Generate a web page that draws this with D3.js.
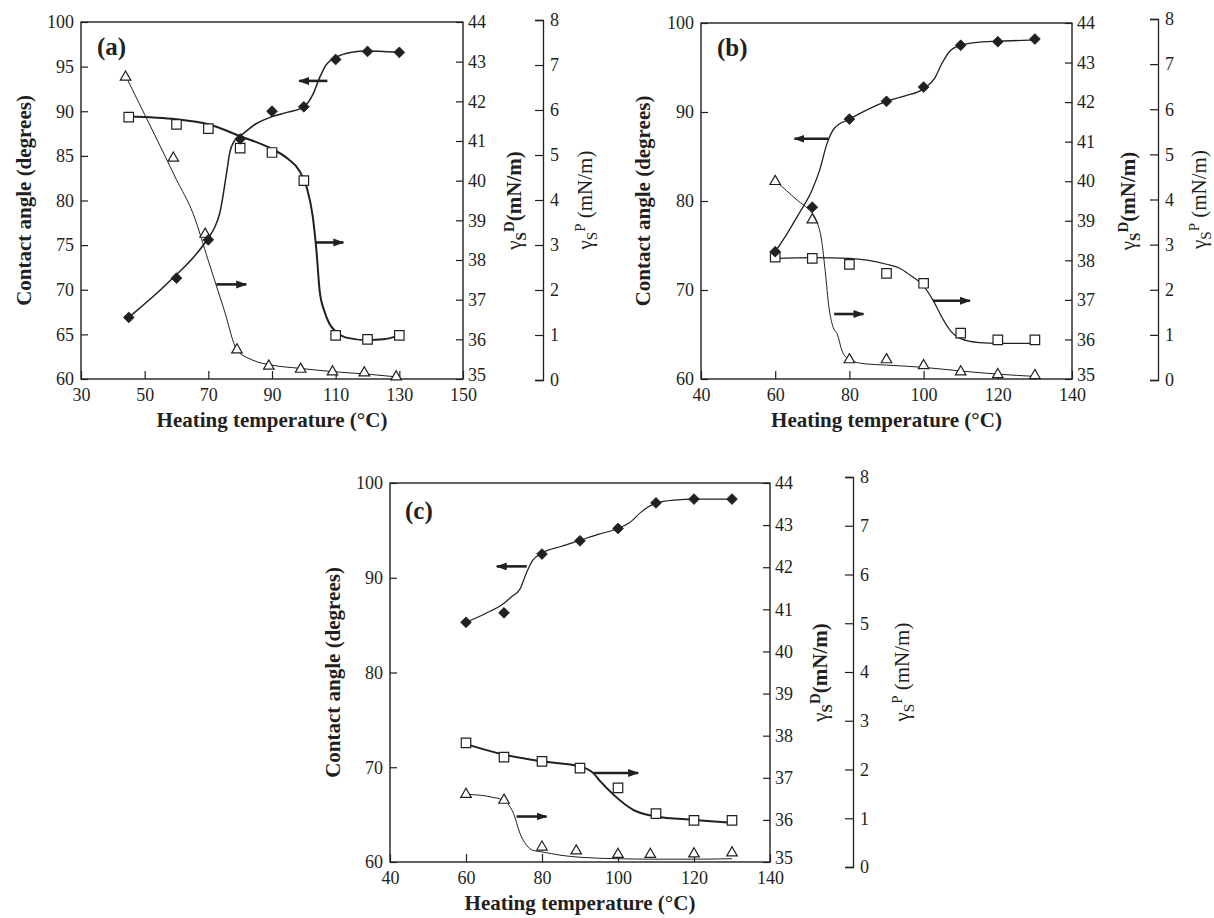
<!DOCTYPE html>
<html><head><meta charset="utf-8">
<script src="https://cdn.jsdelivr.net/npm/d3@7"></script>
<style>
body{margin:0;background:#fff}
svg{display:block}
text{font-family:"Liberation Serif","Times New Roman",serif;fill:#231f20}
</style>
</head><body>
<svg id="chart" width="1214" height="918"></svg>
<script>
// ---------------- DATA ----------------
// Panel (a)
const TEMP_A = [45, 60, 70, 80, 90, 100, 110, 120, 130];
const ANGLE_A = [66.9, 71.3, 75.6, 86.9, 90.0, 90.5, 95.8, 96.7, 96.6];
const GAMMA_D_A = [41.6, 41.42, 41.31, 40.82, 40.71, 40.0, 36.1, 36.0, 36.1];
const TEMP_P_A = [44, 59, 69, 79, 89, 99, 109, 119, 129];
const GAMMA_P_A = [6.73, 4.93, 3.24, 0.67, 0.31, 0.24, 0.18, 0.16, 0.07];
const FIT_ANGLE_A = [[45,66.9],[55,70.0],[60,71.7],[65,73.5],[70,75.8],[72,77.0],[73.6,78.6],[75.7,83.0],[76.7,85.3],[78,86.6],[80,87.2],[85,88.6],[90,89.4],[95,89.9],[100,90.5],[103,92.0],[105,93.8],[107,95.2],[110,96.0],[115,96.6],[120,96.75],[125,96.7],[130,96.6]];
const FIT_GAMMA_D_A = [[45,41.62],[60,41.55],[70,41.42],[80,41.12],[90,40.8],[95,40.55],[98.6,40.25],[101,39.8],[102.8,39.1],[104,38.2],[105,37.2],[106.5,36.7],[108,36.4],[110,36.2],[113,36.05],[120,35.98],[125,36.0],[130,36.1]];
const FIT_GAMMA_P_A = [[44,6.76],[50,5.9],[55,5.18],[60,4.45],[65.2,3.7],[70,2.65],[75,1.55],[79,0.67],[84,0.44],[90,0.33],[98.6,0.26],[110,0.18],[120,0.13],[129,0.07]];
const ARROWS_A = [[107.4, 98.5, 93.4], [72.5, 81.9, 70.6], [103.7, 112.4, 75.3]]; // [fromTemp, toTemp, contact angle]

// Panel (b)
const TEMP_B = [60, 70, 80, 90, 100, 110, 120, 130];
const ANGLE_B = [74.3, 79.3, 89.2, 91.2, 92.8, 97.5, 97.9, 98.2];
const GAMMA_D_B = [38.08, 38.05, 37.9, 37.67, 37.42, 36.16, 35.99, 35.99];
const GAMMA_P_B = [4.4, 3.55, 0.45, 0.45, 0.32, 0.18, 0.12, 0.1];
const FIT_ANGLE_B = [[60,74.3],[63,76.2],[66,78.3],[70,81.3],[72,83.5],[74,86.5],[76,88.2],[80,89.2],[85,90.3],[90,91.2],[95,91.8],[100,92.6],[103,93.8],[105,95.5],[107,96.8],[110,97.5],[115,97.85],[120,97.95],[130,98.1]];
const FIT_GAMMA_D_B = [[60,38.05],[70,38.07],[80,38.05],[90,37.9],[93.6,37.8],[96.3,37.63],[100,37.35],[102.5,37.0],[105,36.55],[107,36.25],[110,36.02],[115,35.92],[120,35.9],[130,35.9]];
const FIT_GAMMA_P_B = [[60,4.42],[63,4.2],[66,3.98],[69,3.78],[71,3.55],[72.5,3.1],[73.5,2.4],[74.5,1.6],[75.5,1.2],[76.8,1.0],[78,0.65],[80,0.45],[84,0.36],[90,0.33],[100,0.28],[110,0.2],[120,0.13],[130,0.08]];
const ARROWS_B = [[74.3, 65.2, 87.0], [75.9, 83.8, 67.3], [102.5, 112.5, 68.8]];

// Panel (c)
const TEMP_C = [60, 70, 80, 90, 100, 110, 120, 130];
const ANGLE_C = [85.3, 86.3, 92.5, 93.9, 95.2, 97.9, 98.3, 98.3];
const GAMMA_D_C = [37.83, 37.49, 37.39, 37.23, 36.76, 36.15, 35.99, 35.99];
const TEMP_P_C = [60, 70, 80, 89, 100, 108.5, 120, 130];
const GAMMA_P_C = [1.49, 1.37, 0.41, 0.33, 0.26, 0.26, 0.27, 0.29];
const FIT_ANGLE_C = [[60,85.3],[65,86.2],[70,87.3],[72,88.0],[74.2,88.8],[76,90.6],[77.5,91.8],[80,92.6],[85,93.3],[90,93.95],[95,94.6],[100,95.2],[103,95.8],[106,96.9],[108,97.5],[110,97.85],[115,98.2],[120,98.3],[130,98.3]];
const FIT_GAMMA_D_C = [[60,37.8],[70,37.55],[80,37.39],[90,37.27],[93.5,37.11],[95.3,36.92],[98.8,36.6],[104,36.24],[110,36.08],[120,36.0],[130,35.93]];
const FIT_GAMMA_P_C = [[60,1.49],[64,1.47],[67,1.43],[69.5,1.38],[71,1.3],[72.5,1.1],[74.2,0.69],[75.9,0.45],[77.7,0.34],[80,0.31],[85,0.24],[90,0.2],[100,0.17],[110,0.16],[120,0.16],[130,0.17]];
const ARROWS_C = [[76, 68.1, 91.2], [73.3, 81.2, 64.8], [93.5, 105.3, 69.4]];

// Axis ticks & labels
const X_TICKS_A = [30, 50, 70, 90, 110, 130, 150];
const X_TICKS_BC = [40, 60, 80, 100, 120, 140];
const Y_TICKS_A = [60, 65, 70, 75, 80, 85, 90, 95, 100];
const Y_TICKS_BC = [60, 70, 80, 90, 100];
const GD_TICKS = [35, 36, 37, 38, 39, 40, 41, 42, 43, 44];
const GP_TICKS = [0, 1, 2, 3, 4, 5, 6, 7, 8];
const PANEL_LABELS = ["(a)", "(b)", "(c)"];
const X_TITLE = "Heating temperature (\u00B0C)";
const Y_TITLE = "Contact angle (degrees)";

// ---------------- LAYOUT ----------------
const INK = "#231f20";
const panels = [
  {label: PANEL_LABELS[0], left: 81, right: 463, top: 22, bottom: 379, xDomain: [30, 150], xTicks: X_TICKS_A, yTicks: Y_TICKS_A,
   pX: 543, pTop: 20, pBottom: 380, yTitleX: 31, dTitleX: 521, pTitleX: 592, xTitleY: 427, labelPos: [97, 55],
   temp: TEMP_A, angle: ANGLE_A, gD: GAMMA_D_A, tempP: TEMP_P_A, gP: GAMMA_P_A,
   fitAngle: FIT_ANGLE_A, fitD: FIT_GAMMA_D_A, fitP: FIT_GAMMA_P_A, arrows: ARROWS_A, wAngle: 1.5, wD: 2, wP: 1},
  {label: PANEL_LABELS[1], left: 701, right: 1072, top: 23, bottom: 379, xDomain: [40, 140], xTicks: X_TICKS_BC, yTicks: Y_TICKS_BC,
   pX: 1158, pTop: 19, pBottom: 380, yTitleX: 650, dTitleX: 1135, pTitleX: 1206, xTitleY: 427, labelPos: [717, 56],
   temp: TEMP_B, angle: ANGLE_B, gD: GAMMA_D_B, tempP: TEMP_B, gP: GAMMA_P_B,
   fitAngle: FIT_ANGLE_B, fitD: FIT_GAMMA_D_B, fitP: FIT_GAMMA_P_B, arrows: ARROWS_B, wAngle: 1.3, wD: 1.2, wP: 1},
  {label: PANEL_LABELS[2], left: 390, right: 770, top: 483, bottom: 862, xDomain: [40, 140], xTicks: X_TICKS_BC, yTicks: Y_TICKS_BC,
   pX: 853, pTop: 477, pBottom: 867, yTitleX: 340, dTitleX: 827, pTitleX: 909, xTitleY: 910, labelPos: [405, 519],
   temp: TEMP_C, angle: ANGLE_C, gD: GAMMA_D_C, tempP: TEMP_P_C, gP: GAMMA_P_C,
   fitAngle: FIT_ANGLE_C, fitD: FIT_GAMMA_D_C, fitP: FIT_GAMMA_P_C, arrows: ARROWS_C, wAngle: 1.2, wD: 2, wP: 1}
];

const svg = d3.select("#chart");
const defs = svg.append("defs");
defs.append("marker").attr("id", "ah").attr("markerUnits", "userSpaceOnUse")
  .attr("markerWidth", 12).attr("markerHeight", 10).attr("refX", 10).attr("refY", 4)
  .attr("orient", "auto")
  .append("path").attr("d", "M0,0 L11,4 L0,8 Z").attr("fill", INK);

function styleAxis(g) {
  g.selectAll("text").attr("font-size", 18).attr("fill", INK)
    .style("font-family", '"Liberation Serif","Times New Roman",serif');
  g.selectAll("line").attr("stroke", INK).attr("stroke-width", 1.2);
  g.selectAll("path.domain").attr("stroke", INK).attr("stroke-width", 1.3);
}

panels.forEach(p => {
  const g = svg.append("g");
  const x = d3.scaleLinear().domain(p.xDomain).range([p.left, p.right]);
  const yA = d3.scaleLinear().domain([60, 100]).range([p.bottom, p.top]);
  const yD = d3.scaleLinear().domain([35, 44]).range([p.bottom, p.top]);
  const yP = d3.scaleLinear().domain([0, 8]).range([p.pBottom, p.pTop]);

  // axes
  const ax = g.append("g").attr("transform", `translate(0,${p.bottom})`)
    .call(d3.axisBottom(x).tickValues(p.xTicks).tickSizeInner(-8).tickSizeOuter(0).tickPadding(9).tickFormat(d3.format("d")));
  ax.select(".domain").remove();
  styleAxis(ax);
  const ayl = g.append("g").attr("transform", `translate(${p.left},0)`)
    .call(d3.axisLeft(yA).tickValues(p.yTicks).tickSizeInner(-7).tickSizeOuter(0).tickPadding(7).tickFormat(d3.format("d")));
  ayl.select(".domain").remove();
  styleAxis(ayl);
  const ayd = g.append("g").attr("transform", `translate(${p.right},0)`)
    .call(d3.axisRight(yD).tickValues(GD_TICKS).tickSizeInner(-7).tickSizeOuter(0).tickPadding(5).tickFormat(d3.format("d")));
  ayd.select(".domain").remove();
  styleAxis(ayd);
  // lowest right-axis label sits just above the bottom x labels, as in the original
  ayd.selectAll(".tick text").filter(d => d === 35).attr("dy", "0.1em");
  const ayp = g.append("g").attr("transform", `translate(${p.pX},0)`)
    .call(d3.axisRight(yP).tickValues(GP_TICKS).tickSizeInner(-8).tickSizeOuter(-8).tickPadding(7).tickFormat(d3.format("d")));
  styleAxis(ayp);

  // frame
  g.append("rect").attr("x", p.left).attr("y", p.top).attr("width", p.right - p.left).attr("height", p.bottom - p.top)
    .attr("fill", "none").attr("stroke", INK).attr("stroke-width", 1.4);

  // titles
  g.append("text").attr("x", (p.left + p.right) / 2).attr("y", p.xTitleY).attr("text-anchor", "middle")
    .attr("font-size", 21).attr("font-weight", "bold").text(X_TITLE);
  g.append("text").attr("transform", `translate(${p.yTitleX},${(p.top + p.bottom) / 2}) rotate(-90)`)
    .attr("text-anchor", "middle").attr("font-size", 21).attr("font-weight", "bold").text(Y_TITLE);

  const td = g.append("text").attr("transform", `translate(${p.dTitleX},${(p.top + p.bottom) / 2}) rotate(-90)`)
    .attr("text-anchor", "middle").attr("font-size", 21);
  td.append("tspan").text("\u03B3");
  td.append("tspan").attr("font-size", 15).attr("font-weight", "bold").attr("dy", 5).text("S");
  td.append("tspan").attr("font-size", 15).attr("font-weight", "bold").attr("dy", -12).text("D");
  td.append("tspan").attr("font-weight", "bold").attr("dy", 7).text("(mN/m)");

  const tp = g.append("text").attr("transform", `translate(${p.pTitleX},${(p.pTop + p.pBottom) / 2}) rotate(-90)`)
    .attr("text-anchor", "middle").attr("font-size", 21);
  tp.append("tspan").text("\u03B3");
  tp.append("tspan").attr("font-size", 15).attr("dy", 5).text("S");
  tp.append("tspan").attr("font-size", 15).attr("dy", -12).text("P");
  tp.append("tspan").attr("dy", 7).text("\u00A0(mN/m)");

  g.append("text").attr("x", p.labelPos[0]).attr("y", p.labelPos[1]).attr("font-size", 25).attr("font-weight", "bold").text(p.label);

  // fitted curves
  const mk = ys => d3.line().x(d => x(d[0])).y(d => ys(d[1])).curve(d3.curveMonotoneX);
  g.append("path").attr("d", mk(yA)(p.fitAngle)).attr("fill", "none").attr("stroke", INK).attr("stroke-width", p.wAngle);
  g.append("path").attr("d", mk(yD)(p.fitD)).attr("fill", "none").attr("stroke", INK).attr("stroke-width", p.wD);
  g.append("path").attr("d", mk(yP)(p.fitP)).attr("fill", "none").attr("stroke", INK).attr("stroke-width", p.wP);

  // arrows
  g.selectAll(null).data(p.arrows).enter().append("line")
    .attr("x1", d => x(d[0])).attr("x2", d => x(d[1])).attr("y1", d => yA(d[2])).attr("y2", d => yA(d[2]))
    .attr("stroke", INK).attr("stroke-width", 2.6).attr("marker-end", "url(#ah)");

  // markers
  const sq = d3.symbol().type(d3.symbolSquare).size(90);
  const tri = d3.symbol().type(d3.symbolTriangle).size(48);
  const dia = d3.symbol().type(d3.symbolSquare).size(58);
  g.selectAll(null).data(p.temp.map((t, i) => [t, p.gD[i]])).enter().append("path")
    .attr("d", sq).attr("transform", d => `translate(${x(d[0])},${yD(d[1])})`)
    .attr("fill", "#fff").attr("stroke", INK).attr("stroke-width", 1.2);
  g.selectAll(null).data(p.tempP.map((t, i) => [t, p.gP[i]])).enter().append("path")
    .attr("d", tri).attr("transform", d => `translate(${x(d[0])},${yP(d[1])})`)
    .attr("fill", "#fff").attr("stroke", INK).attr("stroke-width", 1.2);
  g.selectAll(null).data(p.temp.map((t, i) => [t, p.angle[i]])).enter().append("path")
    .attr("d", dia).attr("transform", d => `translate(${x(d[0])},${yA(d[1])}) rotate(45)`)
    .attr("fill", INK).attr("stroke", INK).attr("stroke-width", 0.8);
});
</script>
</body></html>
